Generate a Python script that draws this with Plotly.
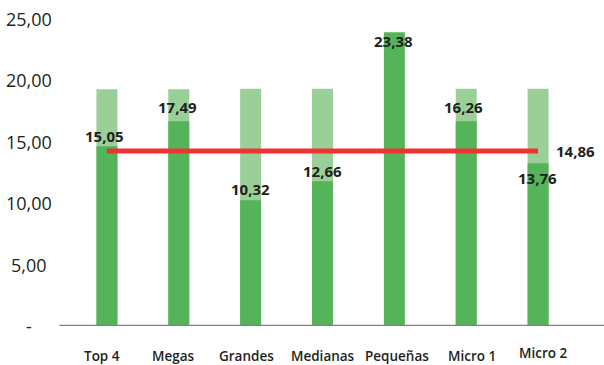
import plotly.graph_objects as go

categories = ["Top 4", "Megas", "Grandes", "Medianas", "Pequeñas", "Micro 1", "Micro 2"]
# heights of the dark bars as drawn
dark_values = [14.61, 16.65, 10.22, 11.76, 23.88, 16.65, 13.23]
# labels printed on the bars
dark_labels = ["15,05", "17,49", "10,32", "12,66", "23,38", "16,26", "13,76"]
# light background bars
light_values = [19.25, 19.25, 19.3, 19.3, 0, 19.3, 19.3]
# average line
avg_value = 14.23
avg_label = "14,86"
y_ticks = [0, 5, 10, 15, 20, 25]
y_tick_labels = ["-", "5,00", "10,00", "15,00", "20,00", "25,00"]

DARK = "#55b45a"
LIGHT = "#9acf98"
RED = "#ee3433"
TXT = "#231f20"
FONT = "Open Sans"

fig = go.Figure()
fig.add_trace(go.Bar(x=categories, y=light_values, marker=dict(color=LIGHT, line=dict(width=0)),
                     hoverinfo="skip"))
fig.add_trace(go.Bar(x=categories, y=dark_values, marker=dict(color=DARK, line=dict(width=0)),
                     hoverinfo="skip"))
fig.add_trace(go.Scatter(x=categories, y=[avg_value] * len(categories), mode="lines",
                         line=dict(color=RED, width=5), hoverinfo="skip"))

# label offsets (px) relative to the top of each dark bar
label_dx = [-2.5, -1.5, -0.5, -0.5, -0.5, -2.5, -0.5]
label_dy = [10, 14, 11, 10, -9, 14, -15]
for c, v, t, dx, dy in zip(categories, dark_values, dark_labels, label_dx, label_dy):
    fig.add_annotation(x=c, y=v, text=t, showarrow=False, xshift=dx, yshift=dy,
                       font=dict(family=FONT, size=15, color=TXT, weight="bold"))
fig.add_annotation(x=categories[-1], y=avg_value, text=avg_label, showarrow=False,
                   xshift=37, yshift=0,
                   font=dict(family=FONT, size=15, color=TXT, weight="bold"))

# category labels (slightly irregular placement as in the original)
cat_dx = [-5, -5, -4.5, 0, 3, 5.5, 4.5]
cat_dy = [-29.5, -29.5, -29.5, -29.5, -29.5, -29.5, -26.5]
for c, dx, dy in zip(categories, cat_dx, cat_dy):
    fig.add_annotation(x=c, y=0, text=c, showarrow=False, xshift=dx, yshift=dy,
                       xanchor="center", yanchor="middle",
                       font=dict(family=FONT, size=13.5, color=TXT, weight=600))

for v, t in zip(y_ticks, y_tick_labels):
    fig.add_annotation(xref="paper", yref="y", x=-0.083, y=v, text=t, showarrow=False,
                       xanchor="center", yanchor="middle",
                       font=dict(family=FONT, size=18, color=TXT))

# baseline
fig.add_shape(type="line", xref="paper", yref="y", x0=-0.023, x1=1.07, y0=0, y1=0,
              line=dict(color="#808080", width=2.5), layer="above")

fig.update_layout(
    width=604, height=365,
    margin=dict(l=70.6, r=30.4, t=5, b=39.3, autoexpand=False),
    barmode="overlay", bargap=0.708,
    showlegend=False,
    plot_bgcolor="white", paper_bgcolor="white",
    xaxis=dict(range=[-0.5, len(categories) - 0.5], autorange=False,
               showgrid=False, zeroline=False, showline=False, ticks="",
               showticklabels=False),
    yaxis=dict(range=[0, 26.1], autorange=False, showgrid=False, zeroline=False,
               showline=False, showticklabels=False, ticks=""),
)

fig.write_html("out.html", config={"displayModeBar": False},
               post_script="document.body.style.margin='0';document.body.style.overflow='hidden';")
